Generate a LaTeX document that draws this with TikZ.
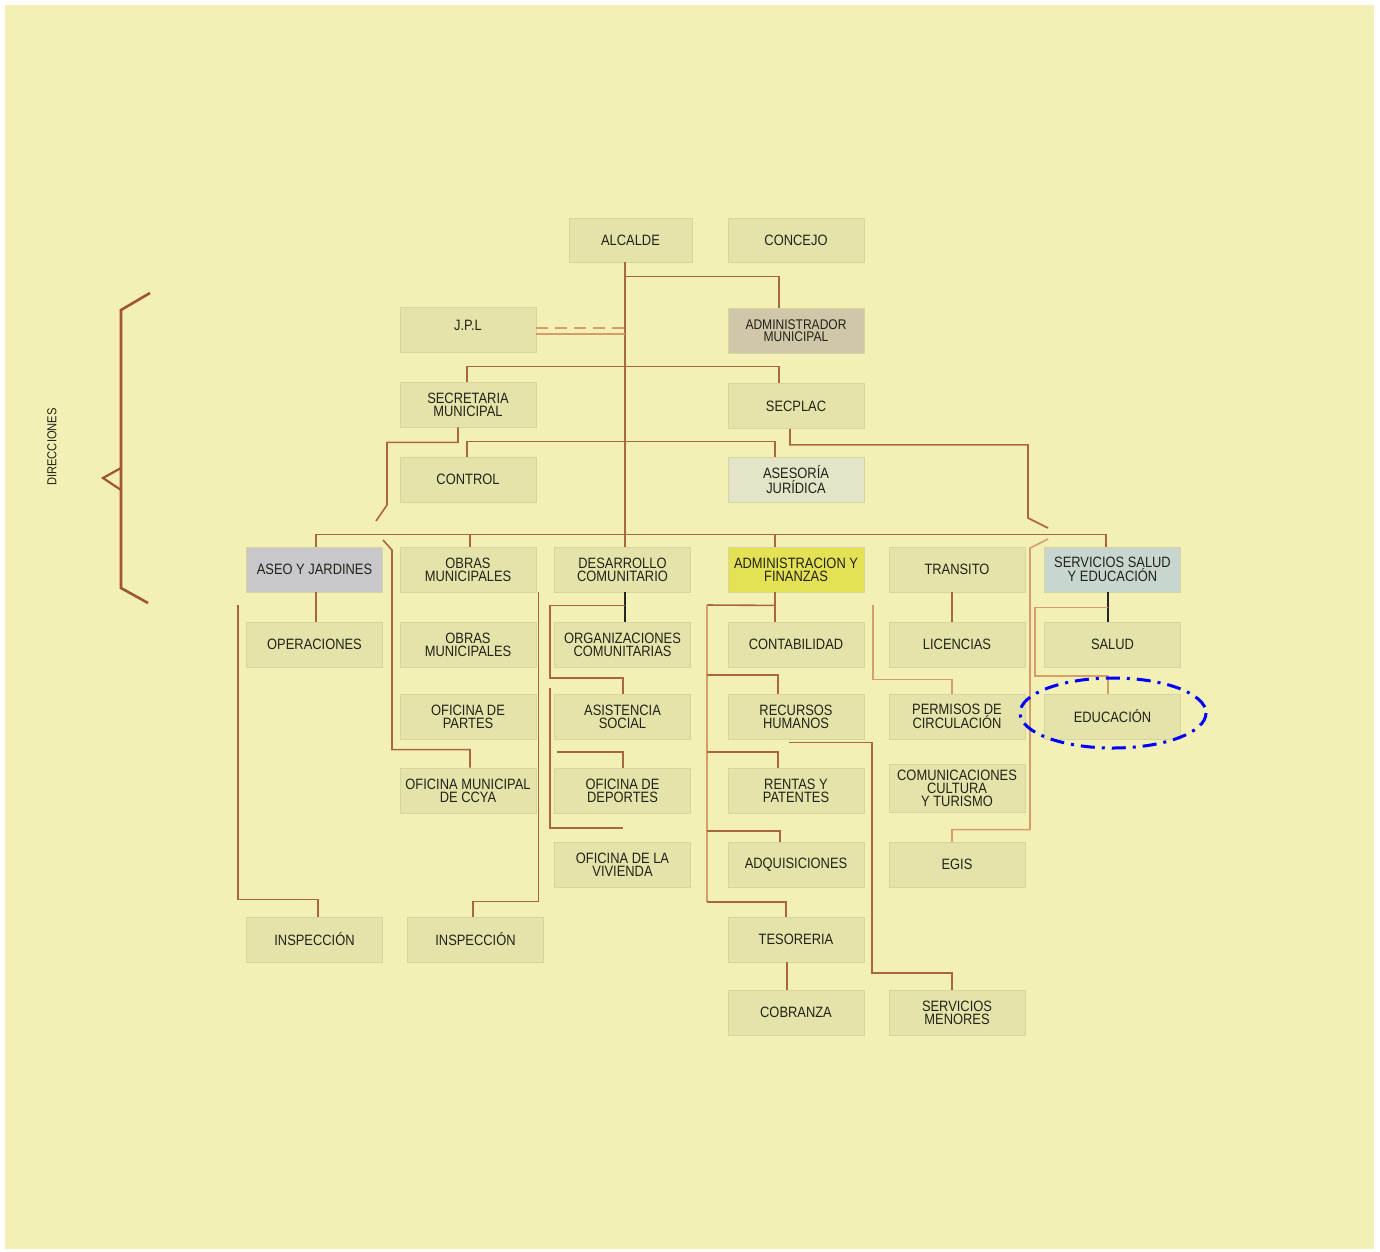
\documentclass[tikz,border=0pt]{standalone}
\usepackage{fontspec}
\setmainfont{Liberation Sans}[FakeStretch=0.86]

\definecolor{paper}{RGB}{242,240,180}
\definecolor{boxfill}{RGB}{228,227,170}
\definecolor{boxedge}{RGB}{214,213,158}
\definecolor{ink}{RGB}{34,34,24}
\definecolor{linkcol}{RGB}{172,102,62}
\definecolor{softcol}{RGB}{214,156,108}
\definecolor{admincol}{RGB}{208,198,168}
\definecolor{asecol}{RGB}{228,228,200}
\definecolor{aseocol}{RGB}{200,200,204}
\definecolor{fincol}{RGB}{228,226,84}
\definecolor{servcol}{RGB}{200,214,208}
\definecolor{bracecol}{RGB}{160,84,50}

\begin{document}
\begin{tikzpicture}[x=1pt, y=-1pt,
    office/.style={fill=boxfill, draw=boxedge, line width=0.8pt,
      minimum width=136pt, minimum height=45pt, inner sep=1pt,
      align=center, text=ink, font=\fontsize{15}{13}\selectfont},
    wire/.style={draw=linkcol, line width=1.6pt},
    wirelight/.style={draw=softcol, line width=1.6pt},
    wiredark/.style={draw=black!85, line width=1.4pt}]
  \useasboundingbox (0,0) rectangle (1380,1251);
  \fill [white] (0,0) rectangle (1380,1251);
  \fill [paper] (5,5) rectangle (1374,1249);

  % top
  \node [office, minimum width=123pt, minimum height=44pt] (alcalde) at (630.5,240) {ALCALDE};
  \node [office, minimum height=44pt] (concejo) at (796,240) {CONCEJO};
  \node [office] (jpl) at (468,330) {\raisebox{4.5pt}[\height][\depth]{J.P.L}};
  \node [office, fill=admincol, font=\fontsize{14}{12}\selectfont] (admin) at (796,331) {ADMINISTRADOR\\MUNICIPAL};
  \node [office] (secretaria) at (468,404.5) {SECRETARIA\\MUNICIPAL};
  \node [office] (secplac) at (796,406) {SECPLAC};
  \node [office] (control) at (468,479.5) {CONTROL};
  \node [office, fill=asecol] (asesoria) at (796,479.5) {ASESORÍA\\JURÍDICA};

  % direcciones
  \node [office, fill=aseocol] (aseo) at (314.5,569.5) {ASEO Y JARDINES};
  \node [office] (obras) at (468,569.5) {OBRAS\\MUNICIPALES};
  \node [office] (desarrollo) at (622.5,569.5) {DESARROLLO\\COMUNITARIO};
  \node [office, fill=fincol] (adminfin) at (796,569.5) {ADMINISTRACION Y\\FINANZAS};
  \node [office] (transito) at (957,569.5) {TRANSITO};
  \node [office, fill=servcol] (servicios) at (1112.5,569.5) {SERVICIOS SALUD\\Y EDUCACIÓN};

  % departamentos
  \node [office] (operaciones) at (314.5,644.5) {OPERACIONES};
  \node [office] (obrasmun) at (468,644.5) {OBRAS\\MUNICIPALES};
  \node [office] (organizaciones) at (622.5,644.5) {ORGANIZACIONES\\COMUNITARIAS};
  \node [office] (contabilidad) at (796,644.5) {CONTABILIDAD};
  \node [office] (licencias) at (957,644.5) {LICENCIAS};
  \node [office] (salud) at (1112.5,644.5) {SALUD};
  \node [office] (partes) at (468,716.5) {OFICINA DE\\PARTES};
  \node [office] (asistencia) at (622.5,716.5) {ASISTENCIA\\SOCIAL};
  \node [office] (recursos) at (796,716.5) {RECURSOS\\HUMANOS};
  \node [office] (permisos) at (957,716.5) {PERMISOS DE\\CIRCULACIÓN};
  \node [office] (educacion) at (1112.5,716.5) {EDUCACIÓN};
  \node [office] (ocya) at (468,790.5) {OFICINA MUNICIPAL\\DE CCYA};
  \node [office] (deportes) at (622.5,790.5) {OFICINA DE\\DEPORTES};
  \node [office] (rentas) at (796,790.5) {RENTAS Y\\PATENTES};
  \node [office, minimum height=48pt] (comunicaciones) at (957,788) {COMUNICACIONES\\CULTURA\\Y TURISMO};
  \node [office] (vivienda) at (622.5,864.5) {OFICINA DE LA\\VIVIENDA};
  \node [office] (adquisiciones) at (796,864.5) {ADQUISICIONES};
  \node [office] (egis) at (957,864.5) {EGIS};
  \node [office] (inspeccionA) at (314.5,939.5) {INSPECCIÓN};
  \node [office] (inspeccionB) at (475.5,939.5) {INSPECCIÓN};
  \node [office] (tesoreria) at (796,939.5) {TESORERIA};
  \node [office] (cobranza) at (796,1012.5) {COBRANZA};
  \node [office] (menores) at (957,1012.5) {SERVICIOS\\MENORES};

  % upper lines
  \coordinate (top) at ([xshift=-5.5pt]alcalde.south);
  \draw [wire] (top) -- ([xshift=2.5pt]desarrollo.north);
  \draw [wire] ([yshift=-14pt]top) -| ([xshift=-17pt]admin.north);
  \draw [wirelight, dash pattern=on 12pt off 7pt] ([yshift=2pt]jpl.east) -- ++(89,0);
  \draw [wirelight] ([yshift=-4pt]jpl.east) -- ++(89,0);
  \draw [wire] ([xshift=-1pt]secretaria.north) -- ++(0,-15) -| ([xshift=-17pt]secplac.north);
  \draw [wire] ([xshift=-1pt]control.north) |- ([xshift=-21pt,yshift=15pt]asesoria.north) -- ([xshift=-21pt]asesoria.north);
  \draw [wire] ([xshift=-10pt]secretaria.south) -- ++(0,15) -| (387,505) -- (376,521);
  \draw [wire] (383,540) -- (392,550) |- ([xshift=2pt,yshift=18pt]ocya.north) -- ([xshift=2pt]ocya.north);
  \draw [wire] ([xshift=-6pt]secplac.south) -- ++(0,16) -| (1028,518) -- (1048,528);
  \draw [wirelight] (1048,539) -- (1030,548) |- ([xshift=-5pt,yshift=12pt]egis.north) -- ([xshift=-5pt]egis.north);

  % bar
  \draw [wire] ([xshift=1.5pt]aseo.north) |- ([xshift=-6.5pt,yshift=12pt]servicios.north) -- ([xshift=-6.5pt]servicios.north);
  \draw [wire] ([xshift=2pt]obras.north) -- ++(0,-12);
  \draw [wire] ([xshift=-21pt]adminfin.north) -- ++(0,-12);

  % aseo y obras
  \draw [wire] ([xshift=1.5pt]aseo.south) -- ([xshift=1.5pt]operaciones.north);
  \draw [wire] (238,605) |- ([xshift=3.5pt,yshift=17pt]inspeccionA.north) -- ([xshift=3.5pt]inspeccionA.north);
  \draw [wire] ([xshift=2pt]obras.south east) |- ([xshift=-2.5pt,yshift=15pt]inspeccionB.north) -- ([xshift=-2.5pt]inspeccionB.north);

  % desarrollo
  \draw [wiredark] ([xshift=2.5pt]desarrollo.south) -- ([xshift=2.5pt]organizaciones.north);
  \draw [wire] ([xshift=2.5pt,yshift=-13pt]desarrollo.south) -| (550,678) -| ([xshift=0.5pt]asistencia.north);
  \draw [wire] (550,688) |- (623,828);
  \draw [wire] (557,752) -| ([xshift=0.5pt]deportes.north);

  % finanzas
  \draw [wire] ([xshift=-21pt]adminfin.south) -- ([xshift=-21pt]contabilidad.north);
  \draw [wire] ([xshift=-21pt,yshift=-13pt]adminfin.south) -- (707,605);
  \draw [wirelight] (707,605) -- (707,902);
  \foreach \y/\dept/\dx in {675/recursos/-18, 752/rentas/-18, 831/adquisiciones/-16, 902/tesoreria/-10}
    \draw [wire] (707,\y) -| ([xshift=\dx pt]\dept.north);
  \draw [wire] ([xshift=-9pt]tesoreria.south) -- ([xshift=-9pt]cobranza.north);
  \draw [wire] ([xshift=-7pt,yshift=-3pt]recursos.south) -| (872,973) -| ([xshift=-5pt]menores.north);

  % transito
  \draw [wire] ([xshift=-5pt]transito.south) -- ([xshift=-5pt]licencias.north);
  \draw [wirelight] (873,605) |- ([xshift=-5pt,yshift=14pt]permisos.north) -- ([xshift=-5pt]permisos.north);

  % servicios
  \draw [wiredark] ([xshift=-4.5pt]servicios.south) -- ([xshift=-4.5pt]salud.north);
  \draw [wirelight] ([xshift=-4.5pt,yshift=-15pt]servicios.south) -| (1035,676) -| ([xshift=-4.5pt]educacion.north);

  % brace
  \draw [bracecol, line width=2.6pt] (150,293) -- (121,310) -- (121,588) -- (148,603);
  \draw [bracecol, line width=2.2pt] (121,468) -- (103,478) -- (121,490);
  \node [rotate=90, text=ink, font=\fontsize{13}{13}\selectfont] (direcciones) at (52,447) {DIRECCIONES};

  % highlight
  \draw [blue, line width=3pt, dash pattern=on 14pt off 7pt on 3pt off 7pt] (1113,713) ellipse [x radius=93, y radius=35];
\end{tikzpicture}
\end{document}
